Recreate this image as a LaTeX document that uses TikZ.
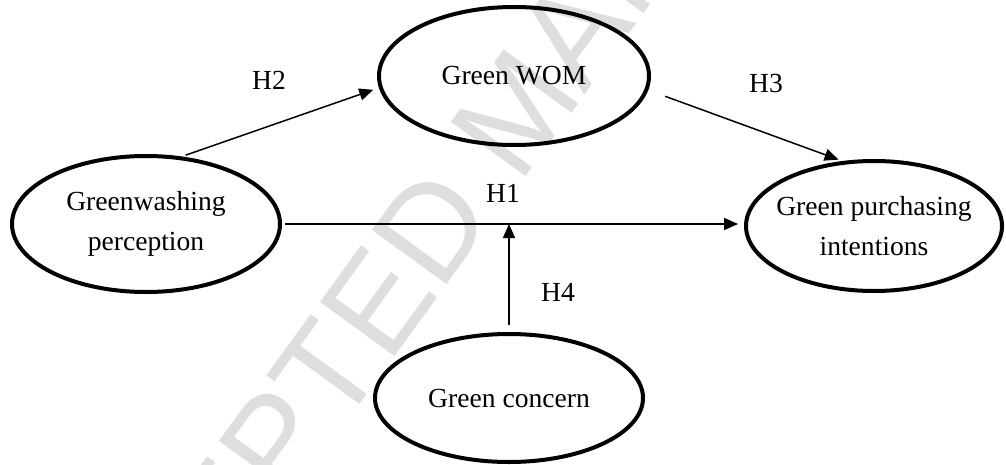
\documentclass[tikz,border=0pt]{standalone}
\usepackage{fontspec}
\setmainfont{Liberation Serif}
\newfontfamily\markfont{Liberation Sans}
\usetikzlibrary{shapes.geometric,arrows.meta}
\definecolor{MarkGray}{RGB}{222,222,222}
\tikzset{
    construct/.style={ellipse, draw=black, line width=2pt, inner sep=0pt, inner xsep=-15pt, align=center, font=\fontsize{13.8}{20}\selectfont},
    hyparrow/.style={-{Triangle[length=7pt,width=6pt]}, line width=0.75pt},
    hyplabel/.style={font=\fontsize{13.8}{20}\selectfont}
}

\begin{document}
\begin{tikzpicture}[x=0.5pt, y=-0.5pt]
\useasboundingbox (0,0) rectangle (1006,465);
\clip (0,0) rectangle (1006,465);
%Watermark
\node[rotate=54, text=MarkGray, font=\markfont\fontsize{67}{80}\selectfont] (mark) at (517,110) {ACCEPTED MANUSCRIPT};
%Constructs
\node[construct, minimum width=134pt, minimum height=68pt] (gwp) at (146,224) {Greenwashing\\perception};
\node[construct, minimum width=135pt, minimum height=69pt] (wom) at (514,76) {Green WOM};
\node[construct, minimum width=128pt, minimum height=65pt] (gpi) at (874,226) {Green purchasing\\intentions};
\node[construct, minimum width=134pt, minimum height=64pt] (gc) at (509,398) {Green concern};
%Hypotheses
\draw[hyparrow, shorten <=2pt, shorten >=3pt] (gwp.62) -- (wom.185);
\draw[hyparrow, shorten <=9pt, shorten >=2pt] (wom.-6) -- (gpi.116);
\draw[hyparrow, shorten <=1.5pt, shorten >=3pt] (gwp.east) -- (gwp.east -| gpi.west);
\draw[hyparrow, shorten <=3.5pt] (gc.north) -- (gc.north |- gwp.east);
%Labels
\node[hyplabel] (h1) at (503,193) {H1};
\node[hyplabel] (h2) at (269,80) {H2};
\node[hyplabel] (h3) at (766,83) {H3};
\node[hyplabel] (h4) at (558,292) {H4};
\end{tikzpicture}
\end{document}
